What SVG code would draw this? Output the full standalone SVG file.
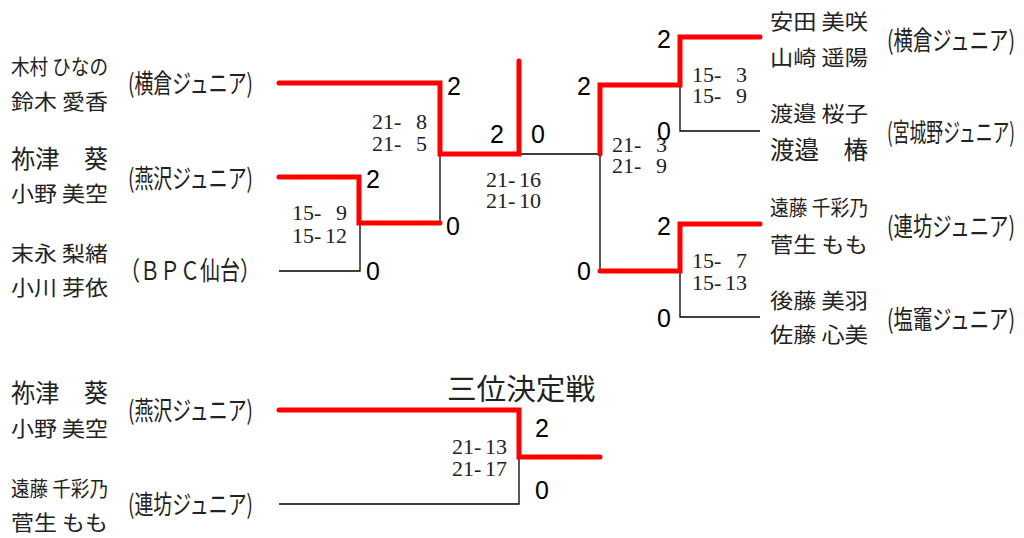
<svg xmlns="http://www.w3.org/2000/svg" width="1024" height="538" viewBox="0 0 1024 538">
<style>
.nm{font-family:"Noto Sans CJK JP","Noto Sans CJK SC",sans-serif;font-size:21px;fill:#222}
.nb{font-family:"Noto Sans CJK JP","Noto Sans CJK SC",sans-serif;font-size:25px;fill:#222}
.af{font-family:"Noto Sans CJK JP","Noto Sans CJK SC",sans-serif;font-size:26px;fill:#222}
.tt{font-family:"Noto Sans CJK JP","Noto Sans CJK SC",sans-serif;font-size:29px;fill:#222}
.sc{font-family:"Liberation Serif",serif;font-size:22px;fill:#222}
.wn{font-family:"Liberation Sans",Arial,sans-serif;font-size:25px;fill:#000}
.bk{fill:none;stroke:#000;stroke-width:1.3}
.rd{fill:none;stroke:#f00;stroke-width:5;stroke-linecap:round;stroke-linejoin:miter}
</style>
<g id="connectors">
<path class="bk" d="M279,271 H360 V223 M440,154 V223 M519,154 H600 V271 M680,85 V131 H760 M680,271 V317 H760 M279,504 H519 V457"/>
<path class="rd" d="M279,83 H440 V154 H519 V61"/>
<path class="rd" d="M279,177 H359 V223 H440"/>
<path class="rd" d="M600,154 V85 H680 V37 H760"/>
<path class="rd" d="M600,271 H680 V224 H760"/>
<path class="rd" d="M279,410 H519 V457 H600"/>
</g>
<g id="team-kimura-suzuki">
<text class="nm" x="11" y="74" textLength="97" lengthAdjust="spacingAndGlyphs">木村 ひなの</text>
<text class="nm" x="11" y="109" textLength="97" lengthAdjust="spacingAndGlyphs">鈴木 愛香</text>
<text class="af" x="128" y="93" textLength="125" lengthAdjust="spacingAndGlyphs">(横倉ジュニア)</text>
</g>
<g id="team-netsu-ono">
<text class="nb" x="11" y="168" textLength="97" lengthAdjust="spacingAndGlyphs">祢津　葵</text>
<text class="nm" x="11" y="201" textLength="97" lengthAdjust="spacingAndGlyphs">小野 美空</text>
<text class="af" x="128" y="188" textLength="125" lengthAdjust="spacingAndGlyphs">(燕沢ジュニア)</text>
</g>
<g id="team-suenaga-ogawa">
<text class="nm" x="11" y="261" textLength="97" lengthAdjust="spacingAndGlyphs">末永 梨緒</text>
<text class="nm" x="11" y="295" textLength="97" lengthAdjust="spacingAndGlyphs">小川 芽依</text>
<text class="af" x="120" y="280" textLength="140" lengthAdjust="spacingAndGlyphs">（ＢＰＣ仙台）</text>
</g>
<g id="team-yasuda-yamazaki">
<text class="nm" x="770" y="29" textLength="98" lengthAdjust="spacingAndGlyphs">安田 美咲</text>
<text class="nm" x="770" y="65" textLength="98" lengthAdjust="spacingAndGlyphs">山崎 遥陽</text>
<text class="af" x="887" y="50" textLength="128" lengthAdjust="spacingAndGlyphs">(横倉ジュニア)</text>
</g>
<g id="team-watanabe">
<text class="nm" x="770" y="121" textLength="98" lengthAdjust="spacingAndGlyphs">渡邉 桜子</text>
<text class="nb" x="770" y="159" textLength="98" lengthAdjust="spacingAndGlyphs">渡邉　椿</text>
<text class="af" x="887" y="142" textLength="128" lengthAdjust="spacingAndGlyphs">(宮城野ジュニア)</text>
</g>
<g id="team-endo-sugo">
<text class="nm" x="770" y="215" textLength="98" lengthAdjust="spacingAndGlyphs">遠藤 千彩乃</text>
<text class="nm" x="770" y="252" textLength="98" lengthAdjust="spacingAndGlyphs">菅生 もも</text>
<text class="af" x="887" y="236" textLength="128" lengthAdjust="spacingAndGlyphs">(連坊ジュニア)</text>
</g>
<g id="team-goto-sato">
<text class="nm" x="770" y="308" textLength="98" lengthAdjust="spacingAndGlyphs">後藤 美羽</text>
<text class="nm" x="770" y="342" textLength="98" lengthAdjust="spacingAndGlyphs">佐藤 心美</text>
<text class="af" x="887" y="329" textLength="128" lengthAdjust="spacingAndGlyphs">(塩竈ジュニア)</text>
</g>
<g id="third-title">
<text class="tt" x="447" y="400" textLength="148" lengthAdjust="spacingAndGlyphs">三位決定戦</text>
</g>
<g id="third-team-netsu-ono">
<text class="nb" x="11" y="402" textLength="97" lengthAdjust="spacingAndGlyphs">祢津　葵</text>
<text class="nm" x="11" y="436" textLength="97" lengthAdjust="spacingAndGlyphs">小野 美空</text>
<text class="af" x="128" y="420" textLength="125" lengthAdjust="spacingAndGlyphs">(燕沢ジュニア)</text>
</g>
<g id="third-team-endo-sugo">
<text class="nm" x="11" y="496" textLength="97" lengthAdjust="spacingAndGlyphs">遠藤 千彩乃</text>
<text class="nm" x="11" y="530" textLength="97" lengthAdjust="spacingAndGlyphs">菅生 もも</text>
<text class="af" x="128" y="514" textLength="125" lengthAdjust="spacingAndGlyphs">(連坊ジュニア)</text>
</g>
<g id="scores">
<text class="sc" x="372 383 394 405 416" y="129">21- 8</text>
<text class="sc" x="372 383 394 405 416" y="151">21- 5</text>
<text class="sc" x="292 303 314 325 336" y="220">15- 9</text>
<text class="sc" x="292 303 314 325 336" y="243">15-12</text>
<text class="sc" x="486 497 508 519 530" y="187">21-16</text>
<text class="sc" x="486 497 508 519 530" y="208">21-10</text>
<text class="sc" x="612 623 634 645 656" y="152">21- 3</text>
<text class="sc" x="612 623 634 645 656" y="173">21- 9</text>
<text class="sc" x="692 703 714 725 736" y="82">15- 3</text>
<text class="sc" x="692 703 714 725 736" y="103">15- 9</text>
<text class="sc" x="692 703 714 725 736" y="268">15- 7</text>
<text class="sc" x="692 703 714 725 736" y="290">15-13</text>
<text class="sc" x="452 463 474 485 496" y="454">21-13</text>
<text class="sc" x="452 463 474 485 496" y="476">21-17</text>
</g>
<g id="games">
<text class="wn" x="447" y="95">2</text>
<text class="wn" x="490" y="143">2</text>
<text class="wn" x="531" y="143">0</text>
<text class="wn" x="366" y="188">2</text>
<text class="wn" x="446" y="235">0</text>
<text class="wn" x="366" y="280">0</text>
<text class="wn" x="577" y="95">2</text>
<text class="wn" x="577" y="280">0</text>
<text class="wn" x="657" y="48">2</text>
<text class="wn" x="657" y="140">0</text>
<text class="wn" x="657" y="235">2</text>
<text class="wn" x="657" y="327">0</text>
<text class="wn" x="535" y="437">2</text>
<text class="wn" x="535" y="499">0</text>
</g>
</svg>
